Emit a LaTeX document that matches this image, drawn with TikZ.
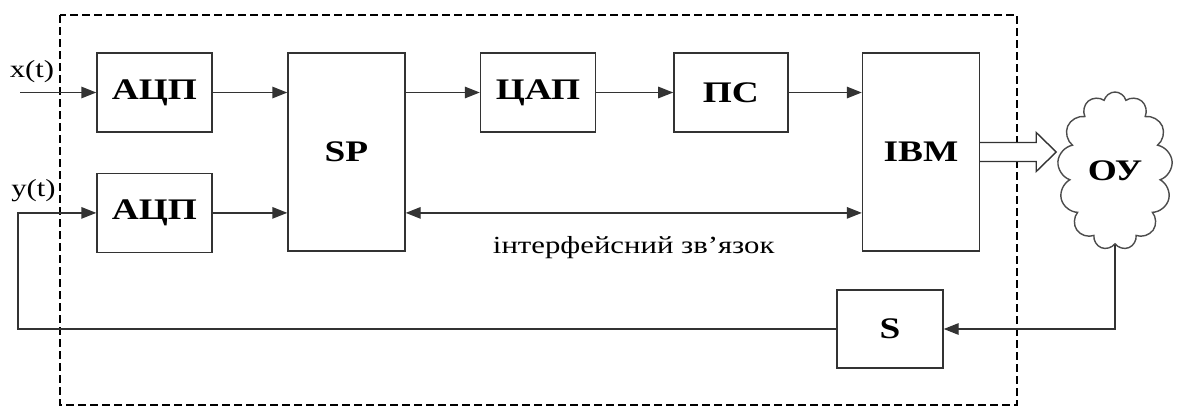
\documentclass[tikz,border=0pt]{standalone}
\usepackage{fontspec}
\setmainfont[FakeStretch=1.25]{Liberation Serif}
\usepackage{tikz}
\usetikzlibrary{shapes.symbols, arrows.meta, positioning, calc}
\tikzstyle{block} = [rectangle, draw=black!80, line width=0.8pt, minimum width=2.3cm, minimum height=1.58cm, inner sep=0pt, text centered, font=\fontsize{17}{19}\selectfont\bfseries]
\tikzstyle{tall} = [block, minimum width=2.34cm, minimum height=3.96cm]
\tikzstyle{arrow} = [line width=0.8pt, draw=black!80, -{Triangle[length=3mm, width=2.3mm]}]

\begin{document}
\begin{tikzpicture}[
    node distance=0.8cm and 1.5cm,
    cloudy/.style={cloud, cloud puffs=13, cloud ignores aspect, draw=black!70, line width=0.8pt, minimum width=2.3cm, minimum height=3.16cm, font=\fontsize{17}{19}\selectfont\bfseries},
    frame/.style={draw=black, line width=1.3pt, dash pattern=on 0.16cm off 0.08cm},
    hollow/.style={draw=black!80, line width=0.8pt, fill=white},
    sig/.style={font=\fontsize{14}{16}\selectfont, inner sep=0pt}
]
    \useasboundingbox (0,0) rectangle (23.56,-8.14);

    % dashed border round the computer part
    \draw [frame] (1.2,-0.3) rectangle (20.34,-8.1);

    % Input converters
    \node [block] (adc1) at (3.09,-1.85) {АЦП};
    \node [block, below=of adc1] (adc2) {АЦП};

    % Processing chain
    \node [tall] (sp) at (6.93,-3.04) {SP};
    \node [block] (dac) at (10.76,-1.85) {ЦАП};
    \node [block, right=1.54cm of dac, minimum width=2.28cm] (ps) {ПС};
    \node [tall] (ibm) at (18.42,-3.04) {IBM};

    % Plant and sensor
    \node [cloudy] (oy) at (22.3,-3.42) {ОУ};
    \node [block, minimum width=2.12cm, minimum height=1.56cm] (s) at (17.8,-6.58) {S};

    % Signals coming in
    \coordinate (xin) at (0.4,-1.85);
    \coordinate (fb) at (0.36,-6.58);
    \node [sig] (xlab) at (0.64,-1.44) {x(t)};
    \node [sig] (ylab) at (0.67,-3.82) {y(t)};

    % Connections
    \draw [arrow] (xin) -- (adc1);
    \draw [arrow] (adc1) -- (adc1 -| sp.west);
    \draw [arrow] (adc2) -- (adc2 -| sp.west);
    \draw [arrow] (dac -| sp.east) -- (dac);
    \draw [arrow] (dac) -- (ps);
    \draw [arrow] (ps) -- (ps -| ibm.west);
    \draw [arrow, {Triangle[length=3mm, width=2.3mm]}-{Triangle[length=3mm, width=2.3mm]}] (adc2 -| sp.east) -- (adc2 -| ibm.west)
        node [midway, below=0.45cm, font=\fontsize{14}{16}\selectfont, inner sep=0pt] (link) {інтерфейсний зв’язок};
    \draw [arrow] (oy.south) |- (s.east);
    \draw [arrow] (s.west) -- (fb) |- (adc2.west);

    % wide output arrow to the plant
    \draw [hollow] ($(ibm.east)+(0,0.19)$) -- ++(1.12,0) -- ++(0,0.2) -- ($(ibm.east)+(1.52,0)$)
        -- ++(-0.4,-0.39) -- ++(0,0.2) -- ($(ibm.east)+(0,-0.19)$);
\end{tikzpicture}
\end{document}
